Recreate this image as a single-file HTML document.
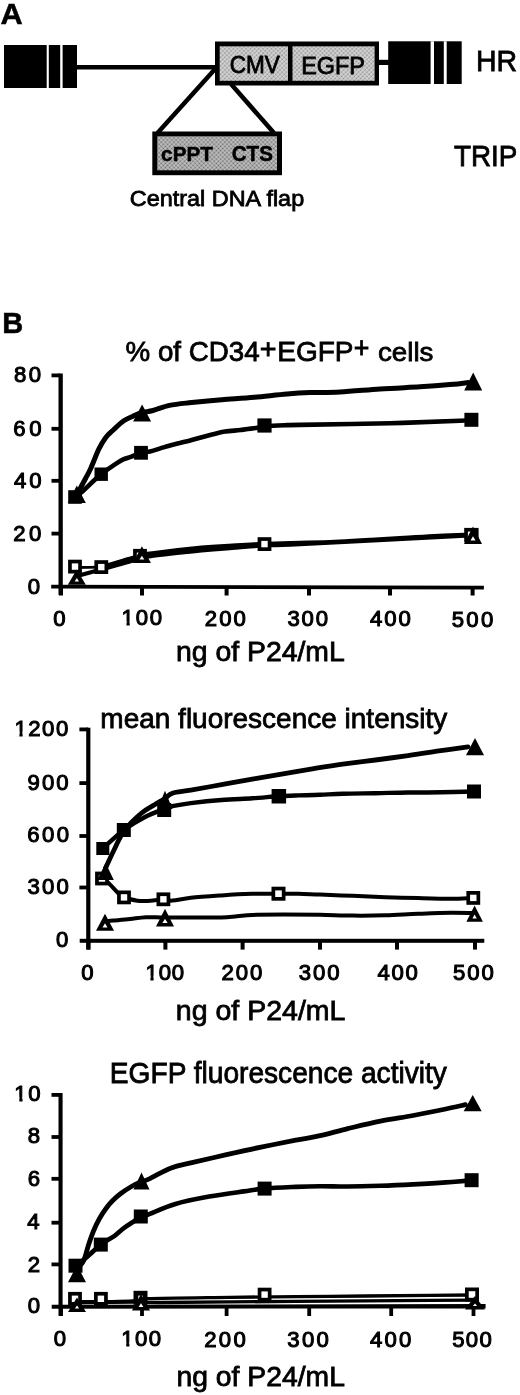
<!DOCTYPE html>
<html><head><meta charset="utf-8"><title>Figure</title>
<style>html,body{margin:0;padding:0;background:#fff;width:520px;height:1395px;overflow:hidden}svg{display:block;filter:blur(0.4px)}text{font-family:"Liberation Sans",sans-serif}</style>
</head><body>
<svg width="520" height="1395" viewBox="0 0 520 1395" font-family='"Liberation Sans", sans-serif' fill="#000"><defs><pattern id="ht1" width="3" height="3" patternUnits="userSpaceOnUse" patternTransform="rotate(45)"><rect width="3" height="3" fill="#d6d6d6"/><circle cx="1.5" cy="1.5" r="0.9" fill="#8c8c8c"/></pattern><pattern id="ht2" width="3" height="3" patternUnits="userSpaceOnUse" patternTransform="rotate(45)"><rect width="3" height="3" fill="#c2c2c2"/><circle cx="1.5" cy="1.5" r="1.0" fill="#6c6c6c"/></pattern></defs><rect x="4.0" y="45.0" width="73.0" height="43.0" fill="#000"/>
<rect x="46.7" y="45.0" width="2.1" height="43.0" fill="#fff"/>
<rect x="60.2" y="45.0" width="2.4" height="43.0" fill="#fff"/>
<line x1="76.0" y1="67.2" x2="216.0" y2="67.2" stroke="#000" stroke-width="4.6"/>
<rect x="215.0" y="41.5" width="164.0" height="44.0" fill="#000"/>
<rect x="219.7" y="46.3" width="68.3" height="34.5" fill="url(#ht1)"/>
<rect x="292.5" y="46.3" width="82.1" height="34.5" fill="url(#ht1)"/>
<line x1="378.0" y1="62.4" x2="389.0" y2="62.4" stroke="#000" stroke-width="5.2"/>
<rect x="388.2" y="41.3" width="73.5" height="42.7" fill="#000"/>
<rect x="430.6" y="41.3" width="3.4" height="42.7" fill="#fff"/>
<rect x="443.8" y="41.3" width="2.9" height="42.7" fill="#fff"/>
<line x1="216.0" y1="68.0" x2="157.5" y2="133.0" stroke="#000" stroke-width="4.5"/>
<line x1="231.0" y1="84.0" x2="274.0" y2="133.0" stroke="#000" stroke-width="4.5"/>
<rect x="152.3" y="131.5" width="129.7" height="43.7" fill="#000"/>
<rect x="157.3" y="136.3" width="119.7" height="34.0" fill="url(#ht2)"/>
<rect x="58.5" y="373.5" width="4.3" height="221.5" fill="#000"/>
<rect x="51.5" y="373.5" width="8.5" height="3.8" fill="#000"/>
<rect x="51.5" y="426.9" width="8.5" height="3.8" fill="#000"/>
<rect x="51.5" y="478.9" width="8.5" height="3.8" fill="#000"/>
<rect x="51.5" y="531.7" width="8.5" height="3.8" fill="#000"/>
<path d="M51.2,584.8 L483.9,585.7 L483.9,589.6 L51.2,588.6Z" fill="#000"/>
<rect x="59.0" y="586.0" width="4.0" height="9.5" fill="#000"/>
<rect x="140.0" y="586.0" width="4.0" height="9.5" fill="#000"/>
<rect x="224.6" y="586.0" width="4.0" height="9.5" fill="#000"/>
<rect x="307.0" y="586.0" width="4.0" height="9.5" fill="#000"/>
<rect x="388.0" y="586.0" width="4.0" height="9.5" fill="#000"/>
<rect x="470.6" y="586.0" width="4.0" height="9.5" fill="#000"/>
<path d="M79.0,575.5 C82.7,574.5 90.7,572.3 101.0,569.5 C111.3,566.7 132.5,560.7 141.0,558.5 C149.5,556.3 141.9,557.4 152.0,556.1 C162.1,554.8 188.2,552.0 201.5,550.6 C214.8,549.2 221.4,548.8 232.0,548.0 C242.6,547.2 253.7,546.2 265.0,545.6 C276.3,545.0 265.8,546.0 300.0,544.3 C334.2,542.6 441.7,537.0 470.0,535.5" fill="none" stroke="#000" stroke-width="4.0" stroke-linejoin="round" stroke-linecap="round"/>
<path d="M75.0,567.5 C79.4,567.5 96.9,567.2 101.3,567.2" fill="none" stroke="#000" stroke-width="2.8" stroke-linejoin="round" stroke-linecap="round"/>
<path d="M101.3,567.0 C107.9,565.1 132.5,557.8 141.0,555.5 C149.5,553.2 142.2,554.5 152.3,553.2 C162.4,551.9 188.2,548.9 201.5,547.6 C214.8,546.3 221.8,546.2 232.3,545.6 C242.8,545.0 253.2,544.3 264.5,543.8 C275.8,543.3 288.3,543.1 300.0,542.8 C311.7,542.5 323.1,542.3 334.6,541.8 C346.1,541.3 357.7,540.5 369.2,539.8 C380.7,539.1 392.2,538.5 403.8,537.8 C415.4,537.1 427.2,536.2 438.5,535.7 C449.8,535.2 466.0,534.7 471.5,534.5" fill="none" stroke="#000" stroke-width="4.0" stroke-linejoin="round" stroke-linecap="round"/>
<path d="M75.0,497.0 C76.1,496.2 78.2,495.1 81.5,492.3 C84.8,489.5 91.3,483.0 94.6,480.0 C97.9,477.0 97.9,476.8 101.2,474.2 C104.5,471.6 110.8,467.1 114.6,464.6 C118.4,462.1 121.0,460.5 123.8,459.2 C126.6,457.9 128.6,457.7 131.5,456.6 C134.4,455.5 137.9,453.7 141.0,452.8 C144.1,451.9 146.9,452.1 150.0,451.4 C153.1,450.7 156.4,449.6 159.6,448.6 C162.8,447.7 166.0,446.6 169.2,445.7 C172.4,444.8 175.6,444.1 178.8,443.3 C182.0,442.5 185.3,441.7 188.5,440.9 C191.7,440.1 194.2,439.4 198.1,438.3 C202.0,437.2 207.5,435.7 212.0,434.6 C216.5,433.5 220.3,432.4 225.0,431.6 C229.7,430.8 235.3,430.6 240.4,430.0 C245.5,429.4 251.8,428.7 255.8,428.1 C259.8,427.5 259.7,426.8 264.5,426.3 C269.3,425.8 278.7,425.4 284.6,425.2 C290.5,425.0 282.4,425.2 300.0,424.9 C317.6,424.6 363.3,423.9 390.0,423.2 C416.7,422.5 446.4,421.4 460.0,420.8 C473.6,420.2 469.5,419.9 471.4,419.7" fill="none" stroke="#000" stroke-width="4.6" stroke-linejoin="round" stroke-linecap="round"/>
<path d="M77.0,494.0 C77.6,492.9 79.1,490.4 80.6,487.7 C82.1,485.0 84.1,481.2 85.8,478.0 C87.5,474.8 88.5,473.3 90.7,468.5 C92.9,463.7 96.3,454.3 98.8,449.2 C101.3,444.1 103.2,440.9 105.6,437.7 C108.0,434.5 110.3,432.8 113.3,430.0 C116.3,427.2 120.5,423.1 123.8,420.8 C127.1,418.5 130.0,417.6 133.0,416.2 C136.0,414.8 138.7,413.4 142.0,412.5 C145.3,411.6 148.4,411.7 153.0,410.5 C157.6,409.3 163.4,406.7 169.4,405.4 C175.4,404.1 180.3,403.7 189.0,402.8 C197.7,401.9 210.8,400.7 221.7,399.8 C232.6,398.9 243.5,398.2 254.4,397.2 C265.3,396.2 277.7,394.8 287.0,394.0 C296.3,393.2 301.2,392.9 310.0,392.6 C318.8,392.3 328.3,392.6 340.0,392.0 C351.7,391.4 366.7,389.9 380.0,389.0 C393.3,388.1 408.3,387.5 420.0,386.8 C431.7,386.1 442.0,385.3 450.0,384.6 C458.0,383.9 465.0,382.9 468.0,382.5" fill="none" stroke="#000" stroke-width="5.0" stroke-linejoin="round" stroke-linecap="round"/>
<rect x="68.1" y="559.7" width="13.8" height="13.8" fill="#000"/><rect x="71.8" y="563.4" width="6.4" height="6.4" fill="#fff"/>
<rect x="94.4" y="560.2" width="13.8" height="13.8" fill="#000"/><rect x="98.1" y="563.9" width="6.4" height="6.4" fill="#fff"/>
<rect x="257.6" y="537.2" width="13.8" height="13.8" fill="#000"/><rect x="261.3" y="540.9" width="6.4" height="6.4" fill="#fff"/>
<path d="M76.8,569.6 L85.8,584.8 L67.8,584.8Z" fill="#000"/><path d="M76.8,578.1 L79.0,581.4 L74.6,581.4Z" fill="#fff"/>
<rect x="133.1" y="548.9" width="13.8" height="13.8" fill="#000"/><rect x="136.8" y="552.6" width="6.4" height="6.4" fill="#fff"/>
<path d="M141.9,546.3 L150.9,563.0 L132.9,563.0Z" fill="#000"/><path d="M141.9,555.7 L144.3,559.6 L139.5,559.6Z" fill="#fff"/>
<rect x="464.2" y="527.9" width="14.4" height="14.4" fill="#000"/><rect x="467.9" y="531.6" width="7.0" height="7.0" fill="#fff"/>
<path d="M473.0,526.5 L482.0,544.0 L464.0,544.0Z" fill="#000"/><path d="M473.0,536.3 L475.5,540.6 L470.5,540.6Z" fill="#fff"/>
<rect x="68.2" y="490.2" width="13.6" height="13.6" fill="#000"/>
<rect x="94.5" y="467.5" width="13.4" height="13.4" fill="#000"/>
<rect x="134.1" y="445.9" width="13.8" height="13.8" fill="#000"/>
<rect x="257.4" y="418.4" width="14.2" height="14.2" fill="#000"/>
<rect x="464.4" y="412.8" width="14" height="14" fill="#000"/>
<path d="M76.8,485.5 L85.8,503.0 L67.8,503.0Z" fill="#000"/>
<path d="M142.1,404.5 L151.1,421.4 L133.1,421.4Z" fill="#000"/>
<path d="M473.2,372.6 L482.2,390.5 L464.2,390.5Z" fill="#000"/>
<rect x="86.2" y="727.7" width="4.2" height="221.8" fill="#000"/>
<rect x="79.4" y="727.5" width="8.6" height="3.8" fill="#000"/>
<rect x="79.4" y="781.2" width="8.6" height="3.8" fill="#000"/>
<rect x="79.4" y="834.1" width="8.6" height="3.8" fill="#000"/>
<rect x="79.4" y="885.6" width="8.6" height="3.8" fill="#000"/>
<rect x="79.7" y="938.8" width="404.6" height="4.0" fill="#000"/>
<rect x="86.4" y="940.0" width="4.0" height="9.6" fill="#000"/>
<rect x="163.4" y="940.0" width="4.0" height="9.6" fill="#000"/>
<rect x="240.6" y="940.0" width="4.0" height="9.6" fill="#000"/>
<rect x="318.0" y="940.0" width="4.0" height="9.6" fill="#000"/>
<rect x="395.0" y="940.0" width="4.0" height="9.6" fill="#000"/>
<rect x="473.0" y="940.0" width="4.0" height="9.6" fill="#000"/>
<path d="M105.0,921.5 C106.3,921.4 108.8,921.0 113.0,920.6 C117.2,920.2 124.5,919.6 130.0,919.0 C135.5,918.4 140.2,917.5 146.0,917.2 C151.8,917.0 157.5,917.5 165.0,917.5 C172.5,917.5 181.4,917.5 190.8,917.5 C200.2,917.5 213.8,917.7 221.5,917.5 C229.2,917.3 231.9,916.7 237.0,916.3 C242.1,915.9 244.6,915.2 252.3,914.9 C260.0,914.6 271.7,914.6 283.0,914.6 C294.3,914.6 308.4,914.6 320.0,914.8 C331.6,915.0 341.8,915.5 352.7,915.6 C363.6,915.7 374.5,915.6 385.4,915.3 C396.3,915.0 407.1,914.2 418.0,913.8 C428.9,913.4 441.5,912.9 450.8,912.8 C460.1,912.7 469.8,913.0 473.6,913.0" fill="none" stroke="#000" stroke-width="4.0" stroke-linejoin="round" stroke-linecap="round"/>
<path d="M102.0,879.0 C103.0,879.6 105.3,880.2 108.0,882.5 C110.7,884.8 115.3,890.5 118.0,893.0 C120.7,895.5 123.0,896.7 124.0,897.4" fill="none" stroke="#000" stroke-width="4.0" stroke-linejoin="round" stroke-linecap="round"/>
<path d="M124.0,897.4 C126.7,898.0 133.4,900.6 140.0,901.0 C146.6,901.4 158.0,899.6 163.4,899.5 C168.8,899.4 167.7,900.9 172.3,900.6 C176.9,900.3 182.6,898.7 190.8,897.8 C199.0,896.9 211.2,896.1 221.5,895.4 C231.8,894.7 242.8,894.1 252.3,893.8 C261.8,893.5 270.8,893.7 278.5,893.7 C286.2,893.7 291.6,893.6 298.5,893.8 C305.4,893.9 311.0,894.3 320.0,894.6 C329.0,894.9 341.8,895.4 352.7,895.8 C363.6,896.2 374.5,896.8 385.4,897.2 C396.3,897.6 407.1,897.8 418.0,898.1 C428.9,898.4 441.6,898.8 450.8,898.8 C460.0,898.8 469.6,898.0 473.3,897.9" fill="none" stroke="#000" stroke-width="4.0" stroke-linejoin="round" stroke-linecap="round"/>
<path d="M102.8,848.5 C106.3,845.4 116.8,835.2 123.8,830.0 C130.8,824.8 138.3,820.5 145.0,817.0 C151.7,813.5 159.4,810.8 164.0,809.0 C168.6,807.2 167.8,807.2 172.3,806.2 C176.8,805.2 182.6,804.1 190.8,803.1 C199.0,802.1 211.2,800.8 221.5,800.0 C231.8,799.2 242.8,798.9 252.3,798.3 C261.8,797.7 270.8,796.7 278.5,796.2 C286.2,795.7 291.6,795.6 298.5,795.4 C305.4,795.2 312.6,795.1 320.0,794.8 C327.4,794.5 333.5,794.1 342.7,793.8 C351.9,793.5 364.5,793.4 375.4,793.2 C386.3,793.0 397.1,792.6 408.0,792.5 C418.9,792.4 429.8,792.5 440.8,792.3 C451.8,792.1 468.5,791.6 474.0,791.5" fill="none" stroke="#000" stroke-width="4.4" stroke-linejoin="round" stroke-linecap="round"/>
<path d="M105.5,868.0 C107.1,864.7 111.9,854.2 115.0,848.0 C118.1,841.8 119.7,836.8 124.0,831.0 C128.3,825.2 135.8,817.9 141.0,813.5 C146.2,809.1 151.0,807.0 155.0,804.5 C159.0,802.0 162.1,800.4 165.0,798.5 C167.9,796.6 168.0,794.6 172.3,793.2 C176.6,791.8 182.6,791.6 190.8,790.2 C199.0,788.8 211.2,786.5 221.5,784.6 C231.8,782.8 242.1,780.9 252.3,779.1 C262.6,777.3 272.8,775.5 283.0,773.8 C293.2,772.0 303.9,770.2 313.8,768.6 C323.8,767.0 332.4,765.6 342.7,764.2 C353.0,762.8 364.5,761.4 375.4,760.0 C386.3,758.6 397.1,757.1 408.0,755.6 C418.9,754.1 430.8,752.2 440.8,750.7 C450.8,749.2 463.5,747.4 468.0,746.8" fill="none" stroke="#000" stroke-width="4.8" stroke-linejoin="round" stroke-linecap="round"/>
<rect x="95.1" y="871.6" width="13.8" height="13.8" fill="#000"/><rect x="98.8" y="875.3" width="6.4" height="6.4" fill="#fff"/>
<rect x="117.1" y="890.5" width="13.8" height="13.8" fill="#000"/><rect x="120.8" y="894.2" width="6.4" height="6.4" fill="#fff"/>
<rect x="156.5" y="892.4" width="13.8" height="13.8" fill="#000"/><rect x="160.2" y="896.1" width="6.4" height="6.4" fill="#fff"/>
<rect x="271.5" y="886.7" width="14" height="14" fill="#000"/><rect x="275.2" y="890.4" width="6.6" height="6.6" fill="#fff"/>
<rect x="466.4" y="891.0" width="13.8" height="13.8" fill="#000"/><rect x="470.1" y="894.7" width="6.4" height="6.4" fill="#fff"/>
<path d="M105.0,913.8 L114.0,930.8 L96.0,930.8Z" fill="#000"/><path d="M105.0,923.3 L107.5,927.4 L102.5,927.4Z" fill="#fff"/>
<path d="M165.0,908.7 L174.0,926.5 L156.0,926.5Z" fill="#000"/><path d="M165.0,918.7 L167.6,923.1 L162.4,923.1Z" fill="#fff"/>
<path d="M474.6,905.5 L482.9,921.8 L466.4,921.8Z" fill="#000"/><path d="M474.6,914.6 L476.8,918.4 L472.4,918.4Z" fill="#fff"/>
<rect x="96.3" y="842.0" width="13" height="13" fill="#000"/>
<rect x="116.8" y="823.0" width="14" height="14" fill="#000"/>
<rect x="157.2" y="803.0" width="14" height="14" fill="#000"/>
<rect x="271.6" y="789.0" width="14.5" height="14.5" fill="#000"/>
<rect x="467.0" y="784.5" width="14" height="14" fill="#000"/>
<path d="M105.6,863.0 L113.8,880.0 L97.3,880.0Z" fill="#000"/>
<path d="M165.0,790.8 L172.5,809.0 L157.5,809.0Z" fill="#000"/>
<path d="M475.0,738.0 L484.0,755.3 L466.0,755.3Z" fill="#000"/>
<rect x="58.5" y="1093.0" width="4.1" height="222.8" fill="#000"/>
<rect x="51.5" y="1093.0" width="8.5" height="3.8" fill="#000"/>
<rect x="51.5" y="1135.1" width="8.5" height="3.8" fill="#000"/>
<rect x="51.5" y="1176.9" width="8.5" height="3.8" fill="#000"/>
<rect x="51.5" y="1220.8" width="8.5" height="3.8" fill="#000"/>
<rect x="51.5" y="1262.5" width="8.5" height="3.8" fill="#000"/>
<path d="M51.7,1304.8 L485.6,1304.0 L485.6,1308.5 L51.7,1308.7Z" fill="#000"/>
<rect x="59.1" y="1306.0" width="3.8" height="10.0" fill="#000"/>
<rect x="140.1" y="1306.0" width="3.8" height="10.0" fill="#000"/>
<rect x="224.7" y="1306.0" width="3.8" height="10.0" fill="#000"/>
<rect x="307.3" y="1306.0" width="3.8" height="10.0" fill="#000"/>
<rect x="389.3" y="1306.0" width="3.8" height="10.0" fill="#000"/>
<rect x="471.6" y="1306.0" width="3.8" height="10.0" fill="#000"/>
<path d="M82.0,1302.6 C90.5,1302.5 120.0,1302.2 133.0,1302.2 C146.0,1302.2 143.8,1302.5 160.0,1302.5 C176.2,1302.5 201.7,1302.1 230.0,1301.9 C258.3,1301.7 296.7,1301.5 330.0,1301.2 C363.3,1301.0 405.8,1300.6 430.0,1300.4 C454.2,1300.2 467.5,1300.2 475.0,1300.2" fill="none" stroke="#000" stroke-width="3.3" stroke-linejoin="round" stroke-linecap="round"/>
<path d="M75.0,1301.5 C80.3,1301.5 97.3,1301.7 107.0,1301.6 C116.7,1301.5 126.3,1301.5 133.0,1301.0 C139.7,1300.5 130.8,1299.2 147.0,1298.6 C163.2,1298.0 199.5,1297.7 230.0,1297.3 C260.5,1296.9 296.7,1296.6 330.0,1296.3 C363.3,1296.0 406.3,1295.6 430.0,1295.4 C453.7,1295.2 465.0,1295.1 472.0,1295.0" fill="none" stroke="#000" stroke-width="3.3" stroke-linejoin="round" stroke-linecap="round"/>
<path d="M75.5,1265.7 C76.1,1265.3 76.8,1265.4 79.2,1263.5 C81.6,1261.6 86.4,1257.4 90.0,1254.2 C93.6,1251.0 96.7,1247.7 100.8,1244.6 C104.9,1241.5 110.8,1238.5 114.6,1235.8 C118.4,1233.0 120.7,1230.4 123.8,1228.1 C126.9,1225.8 130.3,1223.8 133.1,1221.9 C135.9,1220.0 138.5,1217.7 140.8,1216.5 C143.1,1215.3 141.3,1217.0 146.9,1215.0 C152.5,1213.0 164.2,1207.3 174.6,1204.2 C185.0,1201.1 197.7,1198.7 209.2,1196.6 C220.7,1194.5 234.6,1192.7 243.8,1191.4 C253.0,1190.1 255.9,1189.3 264.6,1188.6 C273.3,1187.8 286.6,1187.3 295.8,1186.9 C305.0,1186.5 311.4,1186.3 320.0,1186.2 C328.6,1186.1 337.6,1186.6 347.7,1186.5 C357.8,1186.4 369.5,1186.1 380.4,1185.8 C391.3,1185.5 402.2,1185.0 413.1,1184.4 C424.0,1183.8 436.1,1183.1 445.8,1182.4 C455.6,1181.7 467.3,1180.7 471.6,1180.4" fill="none" stroke="#000" stroke-width="4.6" stroke-linejoin="round" stroke-linecap="round"/>
<path d="M78.0,1268.0 C79.0,1266.7 82.0,1264.2 83.8,1260.4 C85.5,1256.6 86.9,1249.9 88.5,1245.0 C90.1,1240.1 91.7,1235.4 93.5,1231.0 C95.3,1226.6 97.4,1222.2 99.5,1218.5 C101.6,1214.8 103.8,1211.5 106.0,1208.5 C108.2,1205.5 110.0,1203.3 112.5,1200.8 C115.0,1198.3 117.6,1195.9 120.8,1193.5 C124.0,1191.1 128.4,1188.3 131.5,1186.5 C134.6,1184.7 136.0,1184.1 139.2,1182.7 C142.3,1181.3 145.1,1180.8 150.4,1178.3 C155.7,1175.8 164.3,1170.5 171.2,1167.9 C178.1,1165.3 182.7,1164.9 191.9,1162.7 C201.1,1160.5 215.0,1157.3 226.5,1154.7 C238.0,1152.1 249.6,1149.5 261.1,1147.1 C272.7,1144.7 286.0,1142.1 295.8,1140.2 C305.6,1138.3 311.4,1137.6 320.0,1135.7 C328.6,1133.8 337.6,1131.0 347.7,1128.6 C357.8,1126.2 369.5,1123.3 380.4,1121.1 C391.3,1118.9 402.2,1117.5 413.1,1115.5 C424.0,1113.5 437.1,1110.8 445.8,1109.0 C454.5,1107.2 462.1,1105.4 465.4,1104.7" fill="none" stroke="#000" stroke-width="4.8" stroke-linejoin="round" stroke-linecap="round"/>
<rect x="68.1" y="1291.9" width="13.8" height="13.8" fill="#000"/><rect x="71.8" y="1295.6" width="6.4" height="6.4" fill="#fff"/>
<rect x="94.0" y="1291.9" width="13.8" height="13.8" fill="#000"/><rect x="97.7" y="1295.6" width="6.4" height="6.4" fill="#fff"/>
<rect x="133.5" y="1290.8" width="14" height="14" fill="#000"/><rect x="138.3" y="1295.6" width="4.4" height="4.4" fill="#fff"/>
<rect x="257.7" y="1287.7" width="13.8" height="13.8" fill="#000"/><rect x="261.4" y="1291.4" width="6.4" height="6.4" fill="#fff"/>
<rect x="465.0" y="1287.5" width="14" height="14" fill="#000"/><rect x="468.7" y="1291.2" width="6.6" height="6.6" fill="#fff"/>
<path d="M77.0,1297.5 L86.0,1311.9 L68.0,1311.9Z" fill="#000"/><path d="M77.0,1305.6 L79.1,1308.5 L74.9,1308.5Z" fill="#fff"/>
<path d="M141.0,1294.0 L150.0,1310.4 L132.0,1310.4Z" fill="#000"/><path d="M141.0,1303.2 L143.4,1307.0 L138.6,1307.0Z" fill="#fff"/>
<path d="M475.0,1296.0 L485.0,1309.4 L465.0,1309.4Z" fill="#000"/><path d="M475.0,1303.5 L477.1,1306.0 L472.9,1306.0Z" fill="#fff"/>
<rect x="68.5" y="1258.7" width="14" height="14" fill="#000"/>
<rect x="93.8" y="1237.6" width="14" height="14" fill="#000"/>
<rect x="133.8" y="1209.5" width="14" height="14" fill="#000"/>
<rect x="257.6" y="1181.6" width="14" height="14" fill="#000"/>
<rect x="464.6" y="1173.2" width="14" height="14" fill="#000"/>
<path d="M77.0,1265.0 L86.0,1282.3 L68.0,1282.3Z" fill="#000"/>
<path d="M141.5,1172.5 L149.5,1189.5 L133.5,1189.5Z" fill="#000"/>
<path d="M472.7,1095.0 L481.7,1111.3 L463.7,1111.3Z" fill="#000"/>
<text transform="translate(0.53 23.85) scale(1.0200 1)" font-size="30.14" font-weight="bold" stroke="#000" stroke-width="0.50">A</text>
<text transform="translate(229.77 72.57) scale(0.9638 1)" font-size="23.38" stroke="#000" stroke-width="0.81">CMV</text>
<text transform="translate(301.23 73.57) scale(1.0113 1)" font-size="23.10" stroke="#000" stroke-width="0.80">EGFP</text>
<text transform="translate(476.02 71.40) scale(0.9405 1)" font-size="30.29" stroke="#000" stroke-width="0.82">HR</text>
<text transform="translate(161.12 160.54) scale(0.9880 1)" font-size="20.99" font-weight="bold" stroke="#000" stroke-width="0.50">cPPT</text>
<text transform="translate(231.73 160.73) scale(0.9304 1)" font-size="22.11" font-weight="bold" stroke="#000" stroke-width="0.52">CTS</text>
<text transform="translate(454.04 166.01) scale(0.9545 1)" font-size="29.15" stroke="#000" stroke-width="0.82">TRIP</text>
<text transform="translate(129.73 205.73) scale(1.0541 1)" font-size="22.23" stroke="#000" stroke-width="0.78">Central DNA flap</text>
<text transform="translate(2.31 333.25) scale(1.0016 1)" font-size="28.99" font-weight="bold" stroke="#000" stroke-width="0.50">B</text>
<text transform="translate(125.57 361.42) scale(0.9775 1)" font-size="28.38" stroke="#000" stroke-width="0.81">% of CD34</text>
<text transform="translate(259.86 357.85) scale(1.0144 1)" font-size="28.37" stroke="#000" stroke-width="0.79">+</text>
<text transform="translate(277.26 361.22) scale(0.9951 1)" font-size="28.17" stroke="#000" stroke-width="0.80">EGFP</text>
<text transform="translate(353.86 358.36) scale(0.9034 1)" font-size="29.59" stroke="#000" stroke-width="0.84">+</text>
<text transform="translate(377.99 361.44) scale(1.0684 1)" font-size="25.95" stroke="#000" stroke-width="0.77">cells</text>
<text x="14.04" y="381.54" font-size="22.15" letter-spacing="2.34" stroke="#000" stroke-width="1.05">80</text>
<text x="13.22" y="435.89" font-size="22.15" letter-spacing="3.76" stroke="#000" stroke-width="1.05">60</text>
<text x="13.88" y="488.39" font-size="22.15" letter-spacing="3.09" stroke="#000" stroke-width="1.05">40</text>
<text x="13.22" y="540.89" font-size="22.15" letter-spacing="3.56" stroke="#000" stroke-width="1.05">20</text>
<text x="27.85" y="593.74" font-size="22.15" letter-spacing="0.00" stroke="#000" stroke-width="1.05">0</text>
<text x="53.30" y="626.09" font-size="22.15" letter-spacing="0.00" stroke="#000" stroke-width="1.05">0</text>
<text x="121.57" y="625.34" font-size="22.15" letter-spacing="1.75" stroke="#000" stroke-width="1.05">100</text><rect x="121.41" y="621.22" width="5.08" height="5.44" fill="#fff"/><rect x="129.73" y="621.22" width="4.63" height="5.44" fill="#fff"/>
<text x="204.82" y="626.09" font-size="22.15" letter-spacing="2.08" stroke="#000" stroke-width="1.05">200</text>
<text x="287.44" y="626.19" font-size="22.15" letter-spacing="1.87" stroke="#000" stroke-width="1.05">300</text>
<text x="370.08" y="626.19" font-size="22.15" letter-spacing="1.89" stroke="#000" stroke-width="1.05">400</text>
<text x="451.64" y="626.64" font-size="22.15" letter-spacing="2.37" stroke="#000" stroke-width="1.05">500</text>
<text transform="translate(176.00 661.04) scale(1.0346 1)" font-size="27.45" stroke="#000" stroke-width="0.79">ng of P24/mL</text>
<text transform="translate(100.32 727.90) scale(0.9969 1)" font-size="28.09" stroke="#000" stroke-width="0.80">mean fluorescence intensity</text>
<text x="14.47" y="735.59" font-size="22.15" letter-spacing="1.50" stroke="#000" stroke-width="1.05">1200</text><rect x="14.31" y="731.47" width="5.08" height="5.44" fill="#fff"/><rect x="22.63" y="731.47" width="4.63" height="5.44" fill="#fff"/>
<text x="27.54" y="789.64" font-size="22.15" letter-spacing="2.07" stroke="#000" stroke-width="1.05">900</text>
<text x="27.32" y="842.04" font-size="22.15" letter-spacing="2.43" stroke="#000" stroke-width="1.05">600</text>
<text x="27.54" y="893.64" font-size="22.15" letter-spacing="2.17" stroke="#000" stroke-width="1.05">300</text>
<text x="55.90" y="947.14" font-size="22.15" letter-spacing="0.00" stroke="#000" stroke-width="1.05">0</text>
<text x="81.30" y="979.64" font-size="22.15" letter-spacing="0.00" stroke="#000" stroke-width="1.05">0</text>
<text x="145.47" y="979.74" font-size="22.15" letter-spacing="0.85" stroke="#000" stroke-width="1.05">100</text><rect x="145.31" y="975.62" width="5.08" height="5.44" fill="#fff"/><rect x="153.63" y="975.62" width="4.63" height="5.44" fill="#fff"/>
<text x="221.42" y="979.74" font-size="22.15" letter-spacing="1.98" stroke="#000" stroke-width="1.05">200</text>
<text x="298.64" y="979.74" font-size="22.15" letter-spacing="1.97" stroke="#000" stroke-width="1.05">300</text>
<text x="377.38" y="979.74" font-size="22.15" letter-spacing="1.74" stroke="#000" stroke-width="1.05">400</text>
<text x="453.04" y="979.74" font-size="22.15" letter-spacing="1.97" stroke="#000" stroke-width="1.05">500</text>
<text transform="translate(175.79 1019.92) scale(1.0198 1)" font-size="27.98" stroke="#000" stroke-width="0.79">ng of P24/mL</text>
<text transform="translate(109.85 1083.21) scale(0.9545 1)" font-size="29.47" stroke="#000" stroke-width="0.82">EGFP fluorescence activity</text>
<text x="14.37" y="1100.94" font-size="22.15" letter-spacing="1.70" stroke="#000" stroke-width="1.05">10</text><rect x="14.21" y="1096.82" width="5.08" height="5.44" fill="#fff"/><rect x="22.53" y="1096.82" width="4.63" height="5.44" fill="#fff"/>
<text x="27.76" y="1143.14" font-size="22.15" letter-spacing="0.00" stroke="#000" stroke-width="1.05">8</text>
<text x="27.65" y="1185.74" font-size="22.15" letter-spacing="0.00" stroke="#000" stroke-width="1.05">6</text>
<text x="27.31" y="1229.25" font-size="22.15" letter-spacing="0.00" stroke="#000" stroke-width="1.05">4</text>
<text x="27.65" y="1271.80" font-size="22.15" letter-spacing="0.00" stroke="#000" stroke-width="1.05">2</text>
<text x="27.65" y="1312.94" font-size="22.15" letter-spacing="0.00" stroke="#000" stroke-width="1.05">0</text>
<text x="53.80" y="1345.54" font-size="22.15" letter-spacing="0.00" stroke="#000" stroke-width="1.05">0</text>
<text x="121.27" y="1346.14" font-size="22.15" letter-spacing="1.45" stroke="#000" stroke-width="1.05">100</text><rect x="121.11" y="1342.02" width="5.08" height="5.44" fill="#fff"/><rect x="129.43" y="1342.02" width="4.63" height="5.44" fill="#fff"/>
<text x="204.22" y="1346.54" font-size="22.15" letter-spacing="2.28" stroke="#000" stroke-width="1.05">200</text>
<text x="287.24" y="1347.04" font-size="22.15" letter-spacing="2.37" stroke="#000" stroke-width="1.05">300</text>
<text x="370.08" y="1347.04" font-size="22.15" letter-spacing="2.14" stroke="#000" stroke-width="1.05">400</text>
<text x="452.24" y="1347.04" font-size="22.15" letter-spacing="1.32" stroke="#000" stroke-width="1.05">500</text>
<text transform="translate(176.50 1386.39) scale(1.0242 1)" font-size="27.66" stroke="#000" stroke-width="0.79">ng of P24/mL</text></svg>
</body></html>
